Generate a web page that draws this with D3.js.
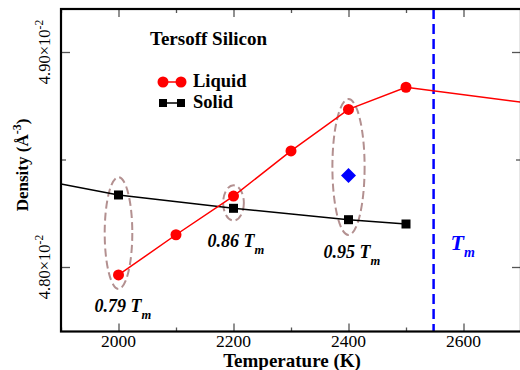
<!DOCTYPE html>
<html>
<head>
<meta charset="utf-8">
<script src="https://cdn.jsdelivr.net/npm/d3@7"></script>
<style>
  body { margin: 0; background: #fff; }
  text { font-family: 'Liberation Serif', 'Times New Roman', Times, serif; }
</style>
</head>
<body>
<div id="chart"></div>
<script>
// Tersoff silicon density vs temperature, liquid and solid branches

const liquidT = [2000, 2100, 2200, 2300, 2400, 2500];
const liquidRho = [0.047963, 0.04815, 0.04833, 0.04854, 0.048733, 0.048836];
// liquid line keeps going past the last point (no marker)
const liquidTailT = [2500, 2700];
const liquidTailRho = [0.048836, 0.048767];

const solidT = [2000, 2200, 2400, 2500];
const solidRho = [0.048335, 0.048273, 0.04822, 0.04820];
// solid line starts left of the first marker
const solidLeadT = [1900, 2000];
const solidLeadRho = [0.048386, 0.048335];

const diamondT = [2400];
const diamondRho = [0.048426];

const meltT = 2548;

// dashed ellipses (centre and half-widths in data units)
const ringT = [2000, 2200, 2400];
const ringRho = [0.048158, 0.048298, 0.048465];
const ringDT = [24, 18, 28];
const ringDRho = [0.00026, 0.000082, 0.000316];
const ringLabels = ['0.79', '0.86', '0.95'];

const xMajor = [2000, 2200, 2400, 2600];
const xMinor = [1900, 2100, 2300, 2500, 2700];
const yMajor = [0.048, 0.049];
const yMinor = [0.0485];

const W = 520, H = 370;
const margin = {top: 9, right: -1, bottom: 38.5, left: 61};
const width = W - margin.left - margin.right;
const height = H - margin.top - margin.bottom;

const svg = d3.select('#chart').append('svg')
    .attr('width', W)
    .attr('height', H);

const g = svg.append('g')
    .attr('transform', `translate(${margin.left},${margin.top})`);

const x = d3.scaleLinear().domain([1900, 2700]).range([0, width]);
const y = d3.scaleLinear().domain([0.0477, 0.0492]).range([height, 0]);

g.append('clipPath').attr('id', 'clip')
    .append('rect').attr('width', width).attr('height', height);

const plot = g.append('g').attr('clip-path', 'url(#clip)');

// ticks (inward, all four sides)
function tickAxis(axisFn, values, size, transform) {
    const a = g.append('g')
        .attr('transform', transform)
        .call(axisFn.tickValues(values).tickSizeInner(-size).tickSizeOuter(0).tickFormat(''));
    a.select('.domain').remove();
    a.selectAll('line').attr('stroke', '#555').attr('stroke-width', 1.3);
    return a;
}
tickAxis(d3.axisBottom(x), xMajor, 8, `translate(0,${height})`);
tickAxis(d3.axisBottom(x), xMinor, 4, `translate(0,${height})`);
tickAxis(d3.axisTop(x), xMajor, 8, 'translate(0,0)');
tickAxis(d3.axisTop(x), xMinor, 4, 'translate(0,0)');
tickAxis(d3.axisLeft(y), yMajor, 9, 'translate(0,0)');
tickAxis(d3.axisLeft(y), yMinor, 5, 'translate(0,0)');
tickAxis(d3.axisRight(y), yMajor, 9, `translate(${width},0)`);
tickAxis(d3.axisRight(y), yMinor, 5, `translate(${width},0)`);

// x tick labels
g.selectAll('.xlab')
    .data(xMajor)
    .enter()
    .append('text')
    .attr('class', 'xlab')
    .attr('x', d => x(d))
    .attr('y', height + 15)
    .attr('text-anchor', 'middle')
    .style('font-size', '17.5px')
    .text(d => d);

// y tick labels, rotated with x10^-2 exponent
const ylab = g.selectAll('.ylab')
    .data(yMajor)
    .enter()
    .append('text')
    .attr('class', 'ylab')
    .attr('transform', d => `translate(-11,${y(d)}) rotate(-90)`)
    .attr('text-anchor', 'middle')
    .style('font-size', '16.5px');
ylab.append('tspan').text(d => (d * 100).toFixed(2) + '\u00d710');
ylab.append('tspan').attr('dy', -7).style('font-size', '11.5px').text('-2');

// melting temperature
plot.append('line')
    .attr('x1', x(meltT)).attr('x2', x(meltT))
    .attr('y1', 0).attr('y2', height)
    .attr('stroke', '#0000ff')
    .attr('stroke-width', 2.5)
    .attr('stroke-dasharray', '10,5');

// ellipses
plot.selectAll('.ring')
    .data(ringT)
    .enter()
    .append('ellipse')
    .attr('class', 'ring')
    .attr('cx', d => x(d))
    .attr('cy', (d, i) => y(ringRho[i]))
    .attr('rx', (d, i) => x(d + ringDT[i]) - x(d))
    .attr('ry', (d, i) => y(ringRho[i] - ringDRho[i]) - y(ringRho[i]))
    .attr('fill', 'none')
    .attr('stroke', '#b39090')
    .attr('stroke-width', 2)
    .attr('stroke-dasharray', '8,4');

const line = d3.line().x(d => x(d[0])).y(d => y(d[1]));

// solid
plot.append('path')
    .datum(d3.zip(solidLeadT, solidLeadRho).concat(d3.zip(solidT, solidRho).slice(1)))
    .attr('d', line)
    .attr('fill', 'none')
    .attr('stroke', '#000')
    .attr('stroke-width', 1.5);

// liquid
plot.append('path')
    .datum(d3.zip(liquidT, liquidRho).concat(d3.zip(liquidTailT, liquidTailRho).slice(1)))
    .attr('d', line)
    .attr('fill', 'none')
    .attr('stroke', '#ff0000')
    .attr('stroke-width', 1.5);

plot.selectAll('.sq')
    .data(d3.zip(solidT, solidRho))
    .enter()
    .append('rect')
    .attr('class', 'sq')
    .attr('x', d => x(d[0]) - 4.5)
    .attr('y', d => y(d[1]) - 4.5)
    .attr('width', 9)
    .attr('height', 9)
    .attr('fill', '#000');

plot.selectAll('.dot')
    .data(d3.zip(liquidT, liquidRho))
    .enter()
    .append('circle')
    .attr('class', 'dot')
    .attr('cx', d => x(d[0]))
    .attr('cy', d => y(d[1]))
    .attr('r', 5.5)
    .attr('fill', '#ff0000');

plot.selectAll('.dia')
    .data(d3.zip(diamondT, diamondRho))
    .enter()
    .append('path')
    .attr('class', 'dia')
    .attr('d', d => {
        const cx = x(d[0]), cy = y(d[1]), r = 7.5;
        return `M${cx},${cy - r}L${cx + r},${cy}L${cx},${cy + r}L${cx - r},${cy}Z`;
    })
    .attr('fill', '#0000ff');

// frame
g.append('rect')
    .attr('width', width)
    .attr('height', height)
    .attr('fill', 'none')
    .attr('stroke', '#000')
    .attr('stroke-width', 2.2);

// ring labels, e.g. "0.79 Tm"
const labelPos = [[-24, 303], [-26, 238], [-25, 249]];
const rl = g.selectAll('.rlab')
    .data(ringLabels)
    .enter()
    .append('text')
    .attr('class', 'rlab')
    .attr('x', (d, i) => x(ringT[i]) + labelPos[i][0])
    .attr('y', (d, i) => labelPos[i][1])
    .style('font-size', '18px')
    .style('font-weight', 'bold')
    .style('font-style', 'italic');
rl.append('tspan').text(d => d + ' T');
rl.append('tspan').attr('dy', 7).style('font-size', '12.5px').text('m');

// Tm label
const tm = g.append('text')
    .attr('x', x(meltT) + 17)
    .attr('y', 241)
    .attr('fill', '#0000ff')
    .style('font-size', '22px')
    .style('font-weight', 'bold')
    .style('font-style', 'italic');
tm.append('tspan').text('T');
tm.append('tspan').attr('dy', 7).style('font-size', '14px').text('m');

// title and legend
g.append('text')
    .attr('x', 89).attr('y', 36)
    .style('font-size', '19px')
    .style('font-weight', 'bold')
    .text('Tersoff Silicon');

const legend = g.append('g').attr('transform', 'translate(102,73)');
legend.append('line').attr('x1', 0).attr('x2', 18).attr('y1', 0).attr('y2', 0)
    .attr('stroke', '#ff0000').attr('stroke-width', 1.5);
legend.selectAll('.lc').data([0, 18]).enter().append('circle')
    .attr('cx', d => d).attr('cy', 0).attr('r', 5.5).attr('fill', '#ff0000');
legend.append('text').attr('x', 30).attr('y', 5)
    .style('font-size', '18.5px').style('font-weight', 'bold').text('Liquid');

legend.append('line').attr('x1', 0).attr('x2', 18).attr('y1', 21).attr('y2', 21)
    .attr('stroke', '#000').attr('stroke-width', 1.5);
legend.selectAll('.ls').data([0, 18]).enter().append('rect')
    .attr('x', d => d - 4).attr('y', 17).attr('width', 8).attr('height', 8).attr('fill', '#000');
legend.append('text').attr('x', 30).attr('y', 26)
    .style('font-size', '18.5px').style('font-weight', 'bold').text('Solid');

// axis titles
svg.append('text')
    .attr('x', 292).attr('y', 367)
    .attr('text-anchor', 'middle')
    .style('font-size', '19px')
    .style('font-weight', 'bold')
    .text('Temperature (K)');

const yt = svg.append('text')
    .attr('transform', 'translate(28,165) rotate(-90)')
    .attr('text-anchor', 'middle')
    .style('font-size', '17px')
    .style('font-weight', 'bold');
yt.append('tspan').text('Density (\u00c5');
yt.append('tspan').attr('dy', -7).style('font-size', '12px').text('-3');
yt.append('tspan').attr('dy', 7).text(')');
</script>
</body>
</html>
